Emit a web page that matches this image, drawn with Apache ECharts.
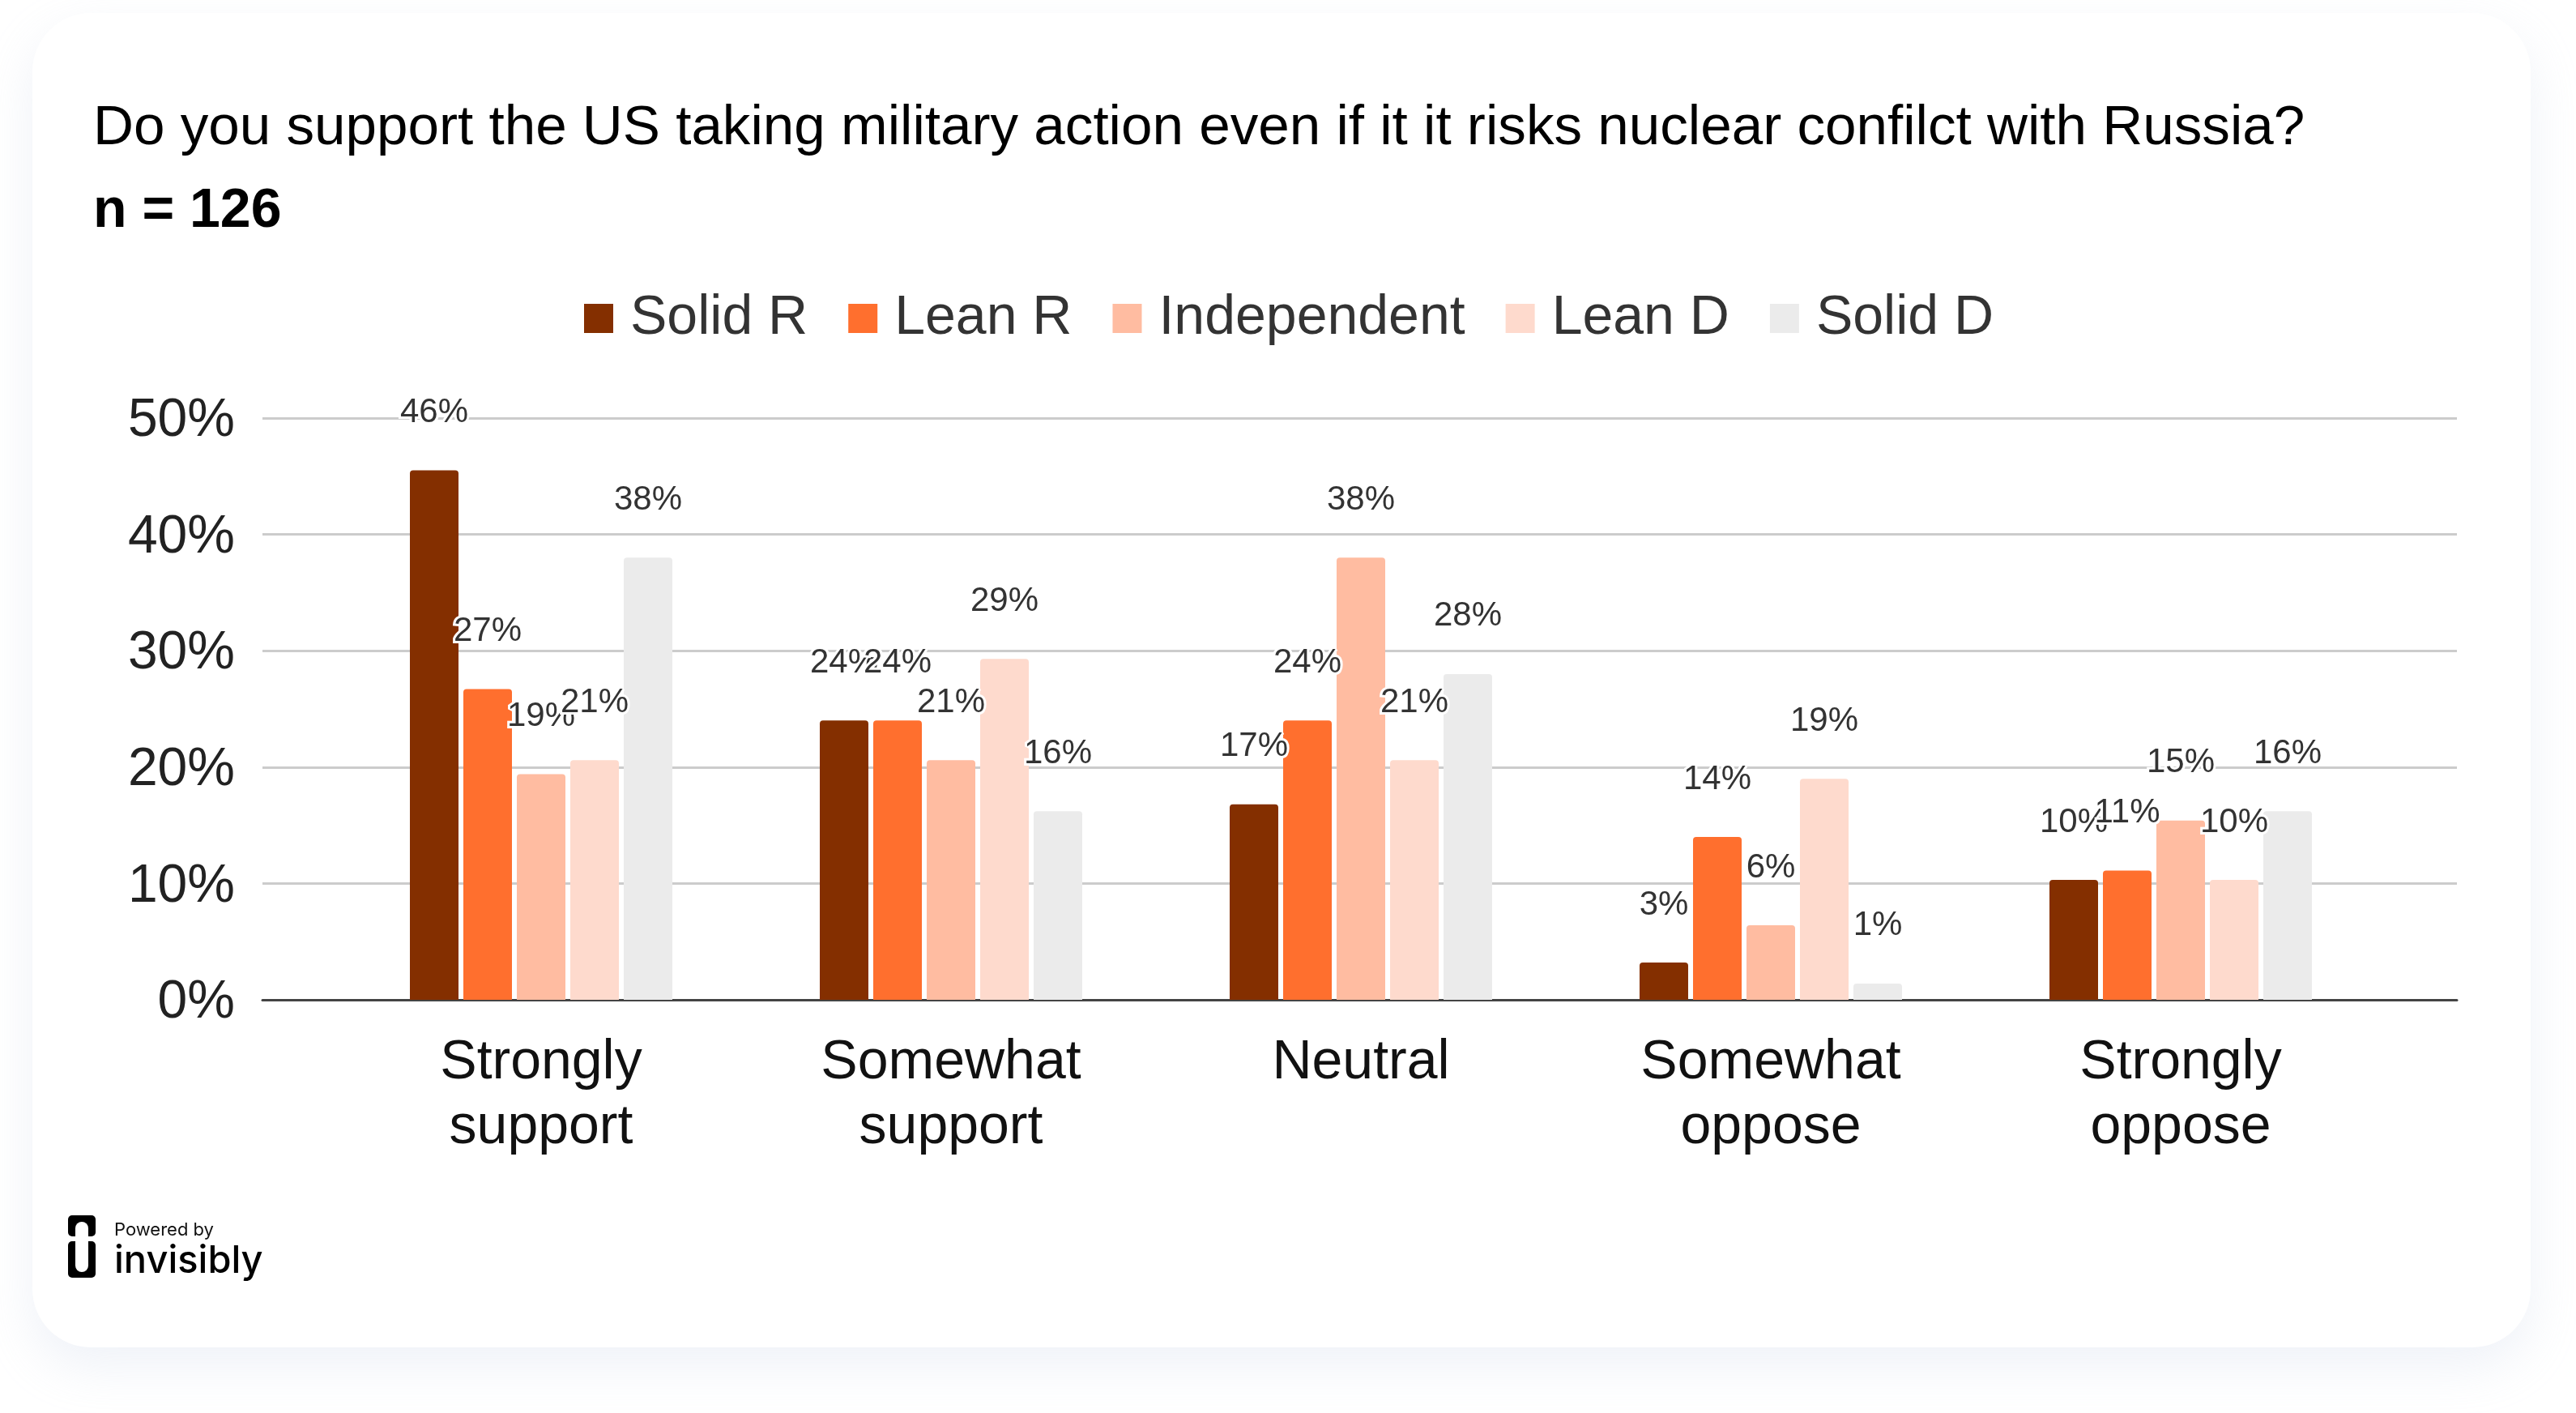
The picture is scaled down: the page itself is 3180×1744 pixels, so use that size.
<!DOCTYPE html>
<html>
<head>
<meta charset="utf-8">
<style>
  html, body { margin: 0; padding: 0; background: #fff; }
  #main { width: 3180px; height: 1744px; }
</style>
<script src="https://cdn.jsdelivr.net/npm/echarts@6/dist/echarts.min.js"></script>
</head>
<body>
<div id="main"></div>
<script>
var categories = ['Strongly\nsupport', 'Somewhat\nsupport', 'Neutral', 'Somewhat\noppose', 'Strongly\noppose'];
var yTicks = [0, 10, 20, 30, 40, 50];
var seriesNames = ['Solid R', 'Lean R', 'Independent', 'Lean D', 'Solid D'];
var colors = ['#842f00', '#ff6f2e', '#ffbca1', '#fedacd', '#ebebeb'];
var solidR = [45.5, 24, 16.8, 3.2, 10.3];
var leanR = [26.7, 24, 24, 14, 11.1];
var independent = [19.4, 20.6, 38, 6.4, 15.4];
var leanD = [20.6, 29.3, 20.6, 19, 10.3];
var solidD = [38, 16.2, 28, 1.4, 16.2];
var values = [solidR, leanR, independent, leanD, solidD];

var chart = echarts.init(document.getElementById('main'), null, { renderer: 'canvas' });

var TOP = 516, BOTTOM = 1234;
var FONT = 'Liberation Sans';

var series = seriesNames.map(function (name, i) {
  return {
    name: name,
    type: 'bar',
    xAxisIndex: 1,
    yAxisIndex: 1,
    barWidth: 60,
    barGap: '10%',
    data: values[i],
    itemStyle: { color: colors[i], borderRadius: [4, 4, 0, 0] },
    label: {
      show: true,
      position: 'top',
      distance: 50,
      fontFamily: FONT,
      fontSize: 42,
      color: '#333',
      textBorderColor: '#fff',
      textBorderWidth: 6,
      formatter: function (p) { return Math.round(p.value) + '%'; }
    }
  };
});

chart.setOption({
  animation: false,
  backgroundColor: '#fff',
  textStyle: { fontFamily: FONT },
  title: [
    {
      text: 'Do you support the US taking military action even if it it risks nuclear confilct with Russia?',
      left: 110, top: 119,
      textStyle: { fontFamily: FONT, fontSize: 69.2, fontWeight: 'normal', color: '#000' }
    },
    {
      text: 'n = 126',
      left: 110, top: 222,
      textStyle: { fontFamily: FONT, fontSize: 68, fontWeight: 'bold', color: '#000' }
    }
  ],
  legend: {
    data: seriesNames,
    left: 716,
    top: 354,
    itemWidth: 36,
    itemHeight: 36,
    itemGap: 50,
    icon: 'rect',
    textStyle: { fontFamily: FONT, fontSize: 68, color: '#333', padding: [0, 0, 0, 16] }
  },
  grid: [
    { left: 324, width: 2709, top: TOP, height: BOTTOM - TOP },
    { left: 415, width: 2530, top: TOP, height: BOTTOM - TOP }
  ],
  xAxis: [
    {
      gridIndex: 0, type: 'category', data: categories,
      axisLine: { lineStyle: { color: '#444', width: 3 } },
      axisTick: { show: false }, axisLabel: { show: false }
    },
    {
      gridIndex: 1, type: 'category', data: categories,
      axisLine: { show: false }, axisTick: { show: false },
      axisLabel: { fontFamily: FONT, fontSize: 68, color: '#111', lineHeight: 80, margin: 38, interval: 0 }
    }
  ],
  yAxis: [
    {
      gridIndex: 0, type: 'value', min: yTicks[0], max: yTicks[yTicks.length - 1], interval: 10,
      axisLine: { show: false }, axisTick: { show: false },
      splitLine: { lineStyle: { color: '#ccc', width: 3 } },
      axisLabel: {
        margin: 34,
        formatter: function (v) { return '{t|' + v + '%}'; },
        rich: { t: { fontFamily: FONT, fontSize: 66, color: '#222', padding: [8, 0, 0, 0] } }
      }
    },
    {
      gridIndex: 1, type: 'value', min: yTicks[0], max: yTicks[yTicks.length - 1], interval: 10,
      axisLine: { show: false }, axisTick: { show: false },
      splitLine: { show: false }, axisLabel: { show: false }
    }
  ],
  series: series,
  graphic: [
    // card
    {
      type: 'rect', z: -10, silent: true,
      shape: { x: 40, y: 16, width: 3084, height: 1647, r: 72 },
      style: { fill: '#fff', shadowBlur: 60, shadowColor: 'rgba(190,200,225,0.24)', shadowOffsetY: 24 }
    },
    // logo
    { type: 'rect', z: 5, shape: { x: 84, y: 1500, width: 34, height: 26, r: 5 }, style: { fill: '#000' } },
    { type: 'rect', z: 6, shape: { x: 93, y: 1508, width: 16, height: 20, r: [8, 8, 0, 0] }, style: { fill: '#fff' } },
    { type: 'rect', z: 5, shape: { x: 84, y: 1532, width: 34, height: 45, r: 5 }, style: { fill: '#000' } },
    { type: 'rect', z: 6, shape: { x: 93, y: 1530, width: 16, height: 40, r: [0, 0, 8, 8] }, style: { fill: '#fff' } },
    { type: 'text', z: 5, style: { x: 141, y: 1518, text: 'Powered by', fill: '#111', font: '22px Inter', textVerticalAlign: 'middle' } },
    { type: 'text', z: 5, style: { x: 141, y: 1557, text: 'invisibly', fill: '#000', font: '500 47px Inter', textVerticalAlign: 'middle' } }
  ]
});
</script>
</body>
</html>
